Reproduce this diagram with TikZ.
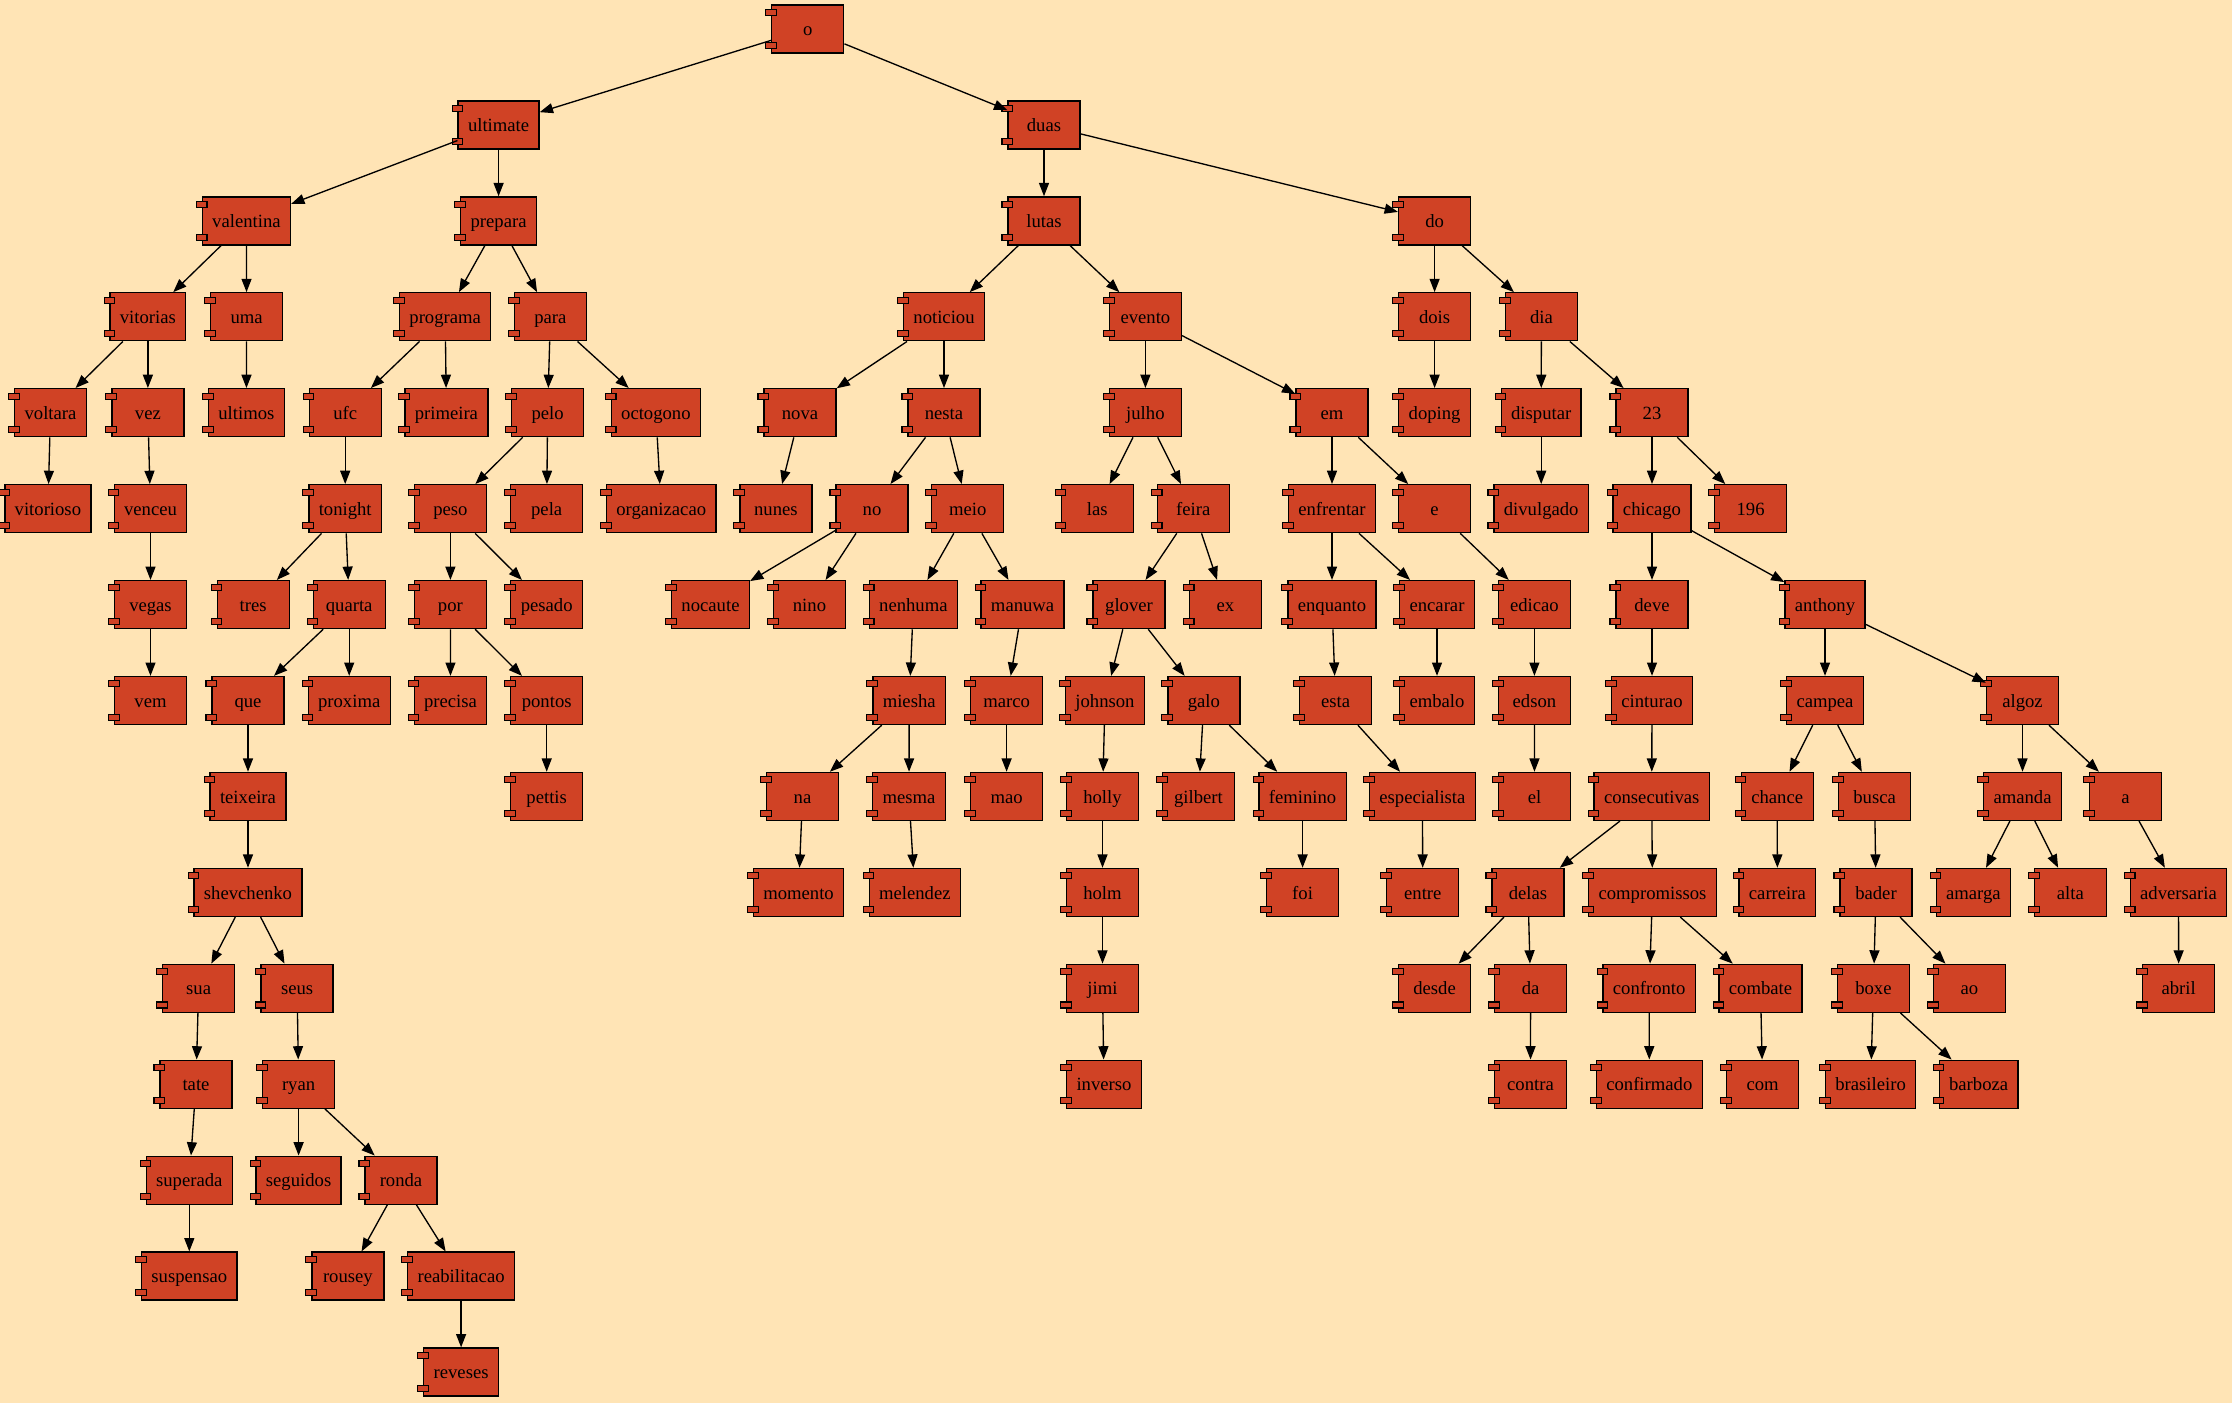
\documentclass[tikz,border=0pt]{standalone}
\usepackage{fontspec}
\setmainfont{Liberation Serif}
\usetikzlibrary{arrows.meta}
\definecolor{paper}{HTML}{FFE4B5}
\definecolor{brick}{HTML}{D04225}

\begin{document}
\begin{tikzpicture}[
    x=0.75pt, y=-0.75pt,
    every node/.style={font=\fontsize{14}{16}\selectfont},
    tab/.style={rectangle, draw, fill=brick, line width=0.8pt,
                minimum width=8pt, minimum height=4.5pt, inner sep=0pt},
    comp/.style={rectangle, draw, fill=brick, line width=1pt,
                 minimum width=54pt, minimum height=36pt, inner xsep=7.4pt,
                 text height=12.5pt, text depth=2.5pt,
                 append after command={
                   \pgfextra{\edef\compname{\tikzlastnode}}
                   node[tab] at ([yshift=-6pt]\compname.north west) {}
                   node[tab] at ([yshift=6pt]\compname.south west) {}}},
    arr/.style={-{Triangle[length=10pt, width=7.5pt]}, line width=1pt},
]

% Background
\useasboundingbox (0,0) rectangle (2232,1403);
\fill[paper] (0,0) rectangle (2232,1403);

% Nodes
\node[comp] (o) at (807.8,29) {o};

\node[comp] (ultimate) at (498.6,124.9) {ultimate};
\node[comp] (duas)     at (1044,124.9)  {duas};

\node[comp] (valentina) at (246.4,220.9)  {valentina};
\node[comp] (prepara)   at (498.6,220.9)  {prepara};
\node[comp] (lutas)     at (1044,220.9)   {lutas};
\node[comp] (do)        at (1434.6,220.9) {do};

\node[comp] (vitorias) at (147.9,316.8)  {vitorias};
\node[comp] (uma)      at (246.6,316.8)  {uma};
\node[comp] (programa) at (445.2,316.8)  {programa};
\node[comp] (para)     at (550.4,316.8)  {para};
\node[comp] (noticiou) at (944,316.8)    {noticiou};
\node[comp] (evento)   at (1145.4,316.8) {evento};
\node[comp] (dois)     at (1434.6,316.8) {dois};
\node[comp] (dia)      at (1541.4,316.8) {dia};

\node[comp] (voltara)  at (50.5,412.7)   {voltara};
\node[comp] (vez)      at (147.9,412.7)  {vez};
\node[comp] (ultimos)  at (246.4,412.7)  {ultimos};
\node[comp] (ufc)      at (345.2,412.7)  {ufc};
\node[comp] (primeira) at (446.4,412.7)  {primeira};
\node[comp] (pelo)     at (547.6,412.7)  {pelo};
\node[comp] (octogono) at (655.9,412.7)  {octogono};
\node[comp] (nova)     at (800,412.7)    {nova};
\node[comp] (nesta)    at (944,412.7)    {nesta};
\node[comp] (julho)    at (1145.4,412.7) {julho};
\node[comp] (em)       at (1332,412.7)   {em};
\node[comp] (doping)   at (1434.6,412.7) {doping};
\node[comp] (disputar) at (1541.2,412.7) {disputar};
\node[comp] (n23)      at (1652,412.7)   {23};

\node[comp] (vitorioso)   at (47.9,508.7)   {vitorioso};
\node[comp] (venceu)      at (150.5,508.7)  {venceu};
\node[comp] (tonight)     at (345.2,508.7)  {tonight};
\node[comp] (peso)        at (450.4,508.7)  {peso};
\node[comp] (pela)        at (546.7,508.7)  {pela};
\node[comp] (organizacao) at (661.2,508.7)  {organizacao};
\node[comp] (nunes)       at (775.9,508.7)  {nunes};
\node[comp] (no)          at (872,508.7)    {no};
\node[comp] (meio)        at (967.8,508.7)  {meio};
\node[comp] (las)         at (1097.2,508.7) {las};
\node[comp] (feira)       at (1193.3,508.7) {feira};
\node[comp] (enfrentar)   at (1332,508.7)   {enfrentar};
\node[comp] (e)           at (1434.6,508.7) {e};
\node[comp] (divulgado)   at (1541.2,508.7) {divulgado};
\node[comp] (chicago)     at (1652,508.7)   {chicago};
\node[comp] (n196)        at (1750.6,508.7) {196};

\node[comp] (vegas)    at (150.5,604.6)  {vegas};
\node[comp] (tres)     at (253.2,604.6)  {tres};
\node[comp] (quarta)   at (349.2,604.6)  {quarta};
\node[comp] (por)      at (450.4,604.6)  {por};
\node[comp] (pesado)   at (546.7,604.6)  {pesado};
\node[comp] (nocaute)  at (710.5,604.6)  {nocaute};
\node[comp] (nino)     at (809.5,604.6)  {nino};
\node[comp] (nenhuma)  at (913.4,604.6)  {nenhuma};
\node[comp] (manuwa)   at (1022.6,604.6) {manuwa};
\node[comp] (glover)   at (1129,604.6)   {glover};
\node[comp] (ex)       at (1225.3,604.6) {ex};
\node[comp] (enquanto) at (1332,604.6)   {enquanto};
\node[comp] (encarar)  at (1437,604.6)   {encarar};
\node[comp] (edicao)   at (1534.4,604.6) {edicao};
\node[comp] (deve)     at (1652,604.6)   {deve};
\node[comp] (anthony)  at (1825,604.6)   {anthony};

\node[comp] (vem)      at (150.5,700.5)  {vem};
\node[comp] (que)      at (248,700.5)    {que};
\node[comp] (proxima)  at (349.2,700.5)  {proxima};
\node[comp] (precisa)  at (450.5,700.5)  {precisa};
\node[comp] (pontos)   at (546.7,700.5)  {pontos};
\node[comp] (miesha)   at (909.2,700.5)  {miesha};
\node[comp] (marco)    at (1006.6,700.5) {marco};
\node[comp] (johnson)  at (1105,700.5)   {johnson};
\node[comp] (galo)     at (1203.9,700.5) {galo};
\node[comp] (esta)     at (1335.6,700.5) {esta};
\node[comp] (embalo)   at (1437,700.5)   {embalo};
\node[comp] (edson)    at (1534.4,700.5) {edson};
\node[comp] (cinturao) at (1652,700.5)   {cinturao};
\node[comp] (campea)   at (1825,700.5)   {campea};
\node[comp] (algoz)    at (2022.5,700.5) {algoz};

\node[comp] (teixeira)     at (248,796.4)    {teixeira};
\node[comp] (pettis)       at (546.7,796.4)  {pettis};
\node[comp] (na)           at (802.5,796.4)  {na};
\node[comp] (mesma)        at (909,796.4)    {mesma};
\node[comp] (mao)          at (1006.6,796.4) {mao};
\node[comp] (holly)        at (1102.5,796.4) {holly};
\node[comp] (gilbert)      at (1198.5,796.4) {gilbert};
\node[comp] (feminino)     at (1302.6,796.4) {feminino};
\node[comp] (especialista) at (1422.4,796.4) {especialista};
\node[comp] (el)           at (1534.5,796.4) {el};
\node[comp] (consecutivas) at (1651.7,796.4) {consecutivas};
\node[comp] (chance)       at (1777.2,796.4) {chance};
\node[comp] (busca)        at (1874.6,796.4) {busca};
\node[comp] (amanda)       at (2022.5,796.4) {amanda};
\node[comp] (a)            at (2125.4,796.4) {a};

\node[comp] (shevchenko)   at (248,892.4)    {shevchenko};
\node[comp] (momento)      at (798.5,892.4)  {momento};
\node[comp] (melendez)     at (914.8,892.4)  {melendez};
\node[comp] (holm)         at (1102.5,892.4) {holm};
\node[comp] (foi)          at (1302.6,892.4) {foi};
\node[comp] (entre)        at (1422.8,892.4) {entre};
\node[comp] (delas)        at (1528,892.4)   {delas};
\node[comp] (compromissos) at (1652.5,892.4) {compromissos};
\node[comp] (carreira)     at (1777.4,892.4) {carreira};
\node[comp] (bader)        at (1876,892.4)   {bader};
\node[comp] (amarga)       at (1973.4,892.4) {amarga};
\node[comp] (alta)         at (2070.4,892.4) {alta};
\node[comp] (adversaria)   at (2178.5,892.4) {adversaria};

\node[comp] (sua)       at (198.6,988.3)  {sua};
\node[comp] (seus)      at (297.1,988.3)  {seus};
\node[comp] (jimi)      at (1102.5,988.3) {jimi};
\node[comp] (desde)     at (1434.6,988.3) {desde};
\node[comp] (da)        at (1530.6,988.3) {da};
\node[comp] (confronto) at (1649.2,988.3) {confronto};
\node[comp] (combate)   at (1760.5,988.3) {combate};
\node[comp] (boxe)      at (1873.4,988.3) {boxe};
\node[comp] (ao)        at (1969.5,988.3) {ao};
\node[comp] (abril)     at (2178.7,988.3) {abril};

\node[comp] (tate)       at (196,1084.2)    {tate};
\node[comp] (ryan)       at (298.6,1084.2)  {ryan};
\node[comp] (inverso)    at (1104,1084.2)   {inverso};
\node[comp] (contra)     at (1530.5,1084.2) {contra};
\node[comp] (confirmado) at (1649.3,1084.2) {confirmado};
\node[comp] (com)        at (1762.6,1084.2) {com};
\node[comp] (brasileiro) at (1870.6,1084.2) {brasileiro};
\node[comp] (barboza)    at (1978.6,1084.2) {barboza};

\node[comp] (superada) at (189.3,1180.2) {superada};
\node[comp] (seguidos) at (298.6,1180.2) {seguidos};
\node[comp] (ronda)    at (401,1180.2)   {ronda};

\node[comp] (suspensao)    at (189.3,1276.1) {suspensao};
\node[comp] (rousey)       at (347.9,1276.1) {rousey};
\node[comp] (reabilitacao) at (461.1,1276.1) {reabilitacao};

\node[comp] (reveses) at (461.1,1372) {reveses};

% Arrows
\draw[arr] (o) -- (ultimate);  \draw[arr] (o) -- (duas);
\draw[arr] (ultimate) -- (valentina);  \draw[arr] (ultimate) -- (prepara);
\draw[arr] (valentina) -- (vitorias);  \draw[arr] (valentina) -- (uma);
\draw[arr] (vitorias) -- (voltara);  \draw[arr] (vitorias) -- (vez);
\draw[arr] (voltara) -- (vitorioso);
\draw[arr] (vez) -- (venceu);
\draw[arr] (venceu) -- (vegas);
\draw[arr] (vegas) -- (vem);
\draw[arr] (uma) -- (ultimos);
\draw[arr] (prepara) -- (programa);  \draw[arr] (prepara) -- (para);
\draw[arr] (programa) -- (ufc);  \draw[arr] (programa) -- (primeira);
\draw[arr] (ufc) -- (tonight);
\draw[arr] (tonight) -- (tres);  \draw[arr] (tonight) -- (quarta);
\draw[arr] (quarta) -- (que);  \draw[arr] (quarta) -- (proxima);
\draw[arr] (que) -- (teixeira);
\draw[arr] (teixeira) -- (shevchenko);
\draw[arr] (shevchenko) -- (sua);  \draw[arr] (shevchenko) -- (seus);
\draw[arr] (sua) -- (tate);
\draw[arr] (tate) -- (superada);
\draw[arr] (superada) -- (suspensao);
\draw[arr] (seus) -- (ryan);
\draw[arr] (ryan) -- (seguidos);  \draw[arr] (ryan) -- (ronda);
\draw[arr] (ronda) -- (rousey);  \draw[arr] (ronda) -- (reabilitacao);
\draw[arr] (reabilitacao) -- (reveses);
\draw[arr] (para) -- (pelo);  \draw[arr] (para) -- (octogono);
\draw[arr] (pelo) -- (peso);  \draw[arr] (pelo) -- (pela);
\draw[arr] (peso) -- (por);  \draw[arr] (peso) -- (pesado);
\draw[arr] (por) -- (precisa);  \draw[arr] (por) -- (pontos);
\draw[arr] (pontos) -- (pettis);
\draw[arr] (octogono) -- (organizacao);
\draw[arr] (duas) -- (lutas);  \draw[arr] (duas) -- (do);
\draw[arr] (lutas) -- (noticiou);  \draw[arr] (lutas) -- (evento);
\draw[arr] (noticiou) -- (nova);  \draw[arr] (noticiou) -- (nesta);
\draw[arr] (nova) -- (nunes);
\draw[arr] (nesta) -- (no);  \draw[arr] (nesta) -- (meio);
\draw[arr] (no) -- (nocaute);  \draw[arr] (no) -- (nino);
\draw[arr] (meio) -- (nenhuma);  \draw[arr] (meio) -- (manuwa);
\draw[arr] (nenhuma) -- (miesha);
\draw[arr] (miesha) -- (na);  \draw[arr] (miesha) -- (mesma);
\draw[arr] (na) -- (momento);
\draw[arr] (mesma) -- (melendez);
\draw[arr] (manuwa) -- (marco);
\draw[arr] (marco) -- (mao);
\draw[arr] (evento) -- (julho);  \draw[arr] (evento) -- (em);
\draw[arr] (julho) -- (las);  \draw[arr] (julho) -- (feira);
\draw[arr] (feira) -- (glover);  \draw[arr] (feira) -- (ex);
\draw[arr] (glover) -- (johnson);  \draw[arr] (glover) -- (galo);
\draw[arr] (johnson) -- (holly);
\draw[arr] (holly) -- (holm);
\draw[arr] (holm) -- (jimi);
\draw[arr] (jimi) -- (inverso);
\draw[arr] (galo) -- (gilbert);  \draw[arr] (galo) -- (feminino);
\draw[arr] (feminino) -- (foi);
\draw[arr] (em) -- (enfrentar);  \draw[arr] (em) -- (e);
\draw[arr] (enfrentar) -- (enquanto);  \draw[arr] (enfrentar) -- (encarar);
\draw[arr] (enquanto) -- (esta);
\draw[arr] (esta) -- (especialista);
\draw[arr] (especialista) -- (entre);
\draw[arr] (encarar) -- (embalo);
\draw[arr] (e) -- (edicao);
\draw[arr] (edicao) -- (edson);
\draw[arr] (edson) -- (el);
\draw[arr] (do) -- (dois);  \draw[arr] (do) -- (dia);
\draw[arr] (dois) -- (doping);
\draw[arr] (dia) -- (disputar);  \draw[arr] (dia) -- (n23);
\draw[arr] (disputar) -- (divulgado);
\draw[arr] (n23) -- (chicago);  \draw[arr] (n23) -- (n196);
\draw[arr] (chicago) -- (deve);  \draw[arr] (chicago) -- (anthony);
\draw[arr] (deve) -- (cinturao);
\draw[arr] (cinturao) -- (consecutivas);
\draw[arr] (consecutivas) -- (delas);  \draw[arr] (consecutivas) -- (compromissos);
\draw[arr] (delas) -- (desde);  \draw[arr] (delas) -- (da);
\draw[arr] (da) -- (contra);
\draw[arr] (compromissos) -- (confronto);  \draw[arr] (compromissos) -- (combate);
\draw[arr] (confronto) -- (confirmado);
\draw[arr] (combate) -- (com);
\draw[arr] (anthony) -- (campea);  \draw[arr] (anthony) -- (algoz);
\draw[arr] (campea) -- (chance);  \draw[arr] (campea) -- (busca);
\draw[arr] (chance) -- (carreira);
\draw[arr] (busca) -- (bader);
\draw[arr] (bader) -- (boxe);  \draw[arr] (bader) -- (ao);
\draw[arr] (boxe) -- (brasileiro);  \draw[arr] (boxe) -- (barboza);
\draw[arr] (algoz) -- (amanda);  \draw[arr] (algoz) -- (a);
\draw[arr] (amanda) -- (amarga);  \draw[arr] (amanda) -- (alta);
\draw[arr] (a) -- (adversaria);
\draw[arr] (adversaria) -- (abril);

\end{tikzpicture}
\end{document}
